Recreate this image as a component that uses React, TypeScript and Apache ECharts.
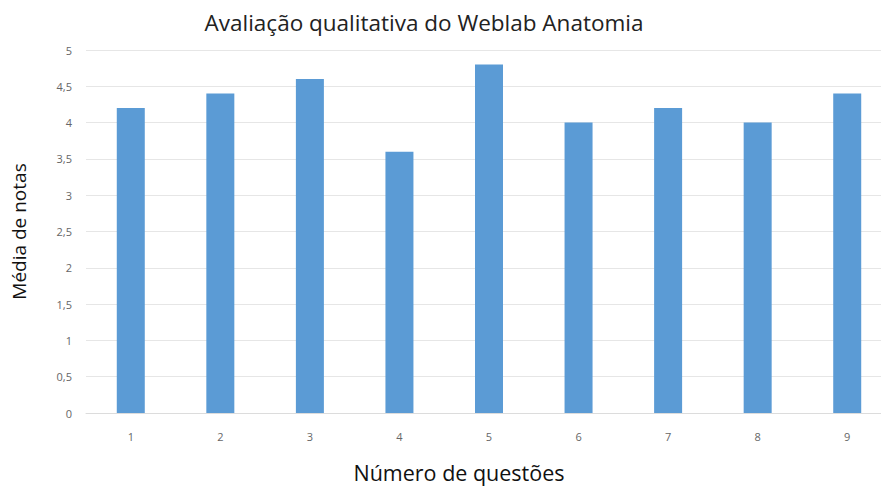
import React, { useEffect, useRef } from "react";
import * as echarts from "echarts";

const categories = ["1", "2", "3", "4", "5", "6", "7", "8", "9"];
const values = [4.2, 4.4, 4.6, 3.6, 4.8, 4.0, 4.2, 4.0, 4.4];
const titleText = "Avaliação qualitativa do Weblab Anatomia";
const yName = "Média de notas";
const xName = "Número de questões";

export default function App() {
  const ref = useRef<HTMLDivElement>(null);
  useEffect(() => {
    if (!ref.current) return;
    const chart = echarts.init(ref.current, null, { renderer: "svg" });
    chart.setOption({
      animation: false,
      backgroundColor: "#ffffff",
      title: {
        text: titleText,
        left: 419,
        top: 6,
        textAlign: "center",
        textStyle: { fontFamily: "Open Sans", fontSize: 22.5, fontWeight: "normal", color: "#222" },
      },
      grid: { left: 86, top: 50, width: 806, height: 363, outerBoundsMode: "none", containLabel: false },
      xAxis: {
        type: "category",
        data: categories,
        name: xName,
        nameLocation: "middle",
        nameGap: 48,
        nameTextStyle: {
          fontFamily: "Open Sans",
          fontSize: 21.5,
          lineHeight: 23,
          color: "#111",
          padding: [0, 60, 0, 0],
        },
        axisLine: { show: true, lineStyle: { color: "#dcdcdc" } },
        axisTick: { show: false },
        axisLabel: { color: "#666", fontFamily: "Open Sans", fontSize: 11, margin: 18 },
      },
      yAxis: {
        type: "value",
        min: 0,
        max: 5,
        interval: 0.5,
        name: yName,
        nameLocation: "middle",
        nameGap: 58,
        nameTextStyle: { fontFamily: "Open Sans", fontSize: 19, color: "#111" },
        axisLine: { show: false },
        axisTick: { show: false },
        axisLabel: {
          color: "#666",
          fontFamily: "Open Sans",
          fontSize: 11,
          margin: 14,
          formatter: (v: number) => String(v).replace(".", ","),
        },
        splitLine: { lineStyle: { color: "#e6e6e6" } },
      },
      series: [
        {
          type: "bar",
          data: values,
          barWidth: 28,
          itemStyle: { color: "#5B9BD5" },
        },
      ],
    });
    return () => chart.dispose();
  }, []);
  return (
    <div style={{ position: "fixed", left: 0, top: 0, width: 881, height: 486, overflow: "hidden", background: "#fff" }}>
      <div ref={ref} style={{ width: 900, height: 486 }} />
    </div>
  );
}
